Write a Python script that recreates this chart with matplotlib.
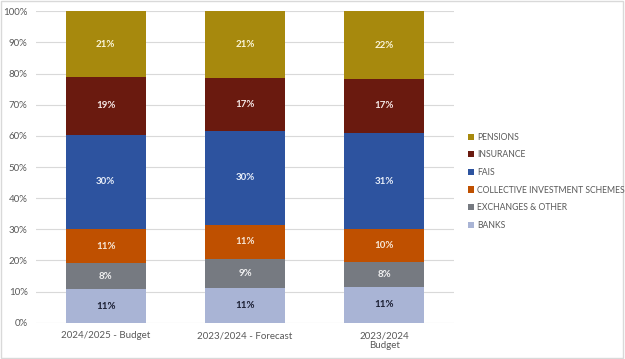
import matplotlib.pyplot as plt
import numpy as np
from matplotlib.patches import Rectangle

plt.rcParams['font.family'] = ['Lato', 'DejaVu Sans']

# periods on the x axis
periods = ['2024/2025 - Budget', '2023/2024 - Forecast', '2023/2024\nBudget']

# shares per sector (percent)
banks = [10.7, 11.2, 11.4]
exchanges = [8.4, 9.4, 8.2]
cis = [10.9, 10.8, 10.4]
fais = [30.4, 30.2, 31.0]
insurance = [18.6, 17.0, 17.2]
pensions = [21.0, 21.4, 21.8]

series = [
    ('BANKS', banks, '#A9B4D5', '#1B1F33'),
    ('EXCHANGES & OTHER', exchanges, '#767A81', '#F2F2F2'),
    ('COLLECTIVE INVESTMENT SCHEMES', cis, '#BF5000', '#F7E7D7'),
    ('FAIS', fais, '#2D539F', '#E8EEF8'),
    ('INSURANCE', insurance, '#6A1A0F', '#F5E8E6'),
    ('PENSIONS', pensions, '#A7890D', '#FBF5DA'),
]

fig = plt.figure(figsize=(6.25, 3.59), dpi=100)
ax = fig.add_axes([0.0576, 0.101, 0.669, 0.8675])

x = np.arange(len(periods))
bottom = np.zeros(len(periods))
handles = []
for name, vals, color, txtcolor in series:
    vals = np.array(vals)
    b = ax.bar(x, vals, width=0.574, bottom=bottom, color=color, label=name, zorder=3)
    handles.append(b)
    for xi, v, bt in zip(x, vals, bottom):
        ax.text(xi, bt + v / 2, f'{v:.0f}%', ha='center', va='center',
                fontsize=7, fontweight='bold', color=txtcolor, zorder=4)
    bottom += vals

ax.set_xlim(-0.5, 2.5)
ax.set_ylim(0, 100)
ax.set_yticks(np.arange(0, 101, 10))
ax.set_yticklabels([f'{t}%' for t in range(0, 101, 10)])
ax.set_xticks(x)
ax.set_xticklabels(periods)
ax.grid(axis='y', color='#D9D9D9', linewidth=0.8, zorder=0)
for s in ax.spines.values():
    s.set_visible(False)
ax.tick_params(length=0, labelsize=7, colors='#595959', pad=6)

leg = fig.legend(handles[::-1], [s[0] for s in series][::-1],
                 loc='upper left', bbox_to_anchor=(0.736, 0.652),
                 frameon=False, fontsize=6.2, handlelength=0.75, handleheight=0.75,
                 handletextpad=0.35, labelspacing=1.0, labelcolor='#595959')

# light frame around the chart area
fig.patches.append(Rectangle((0.002, 0.004), 0.995, 0.992, transform=fig.transFigure,
                             fill=False, edgecolor='#D9D9D9', linewidth=1))

fig.savefig('out.png', dpi=100)
